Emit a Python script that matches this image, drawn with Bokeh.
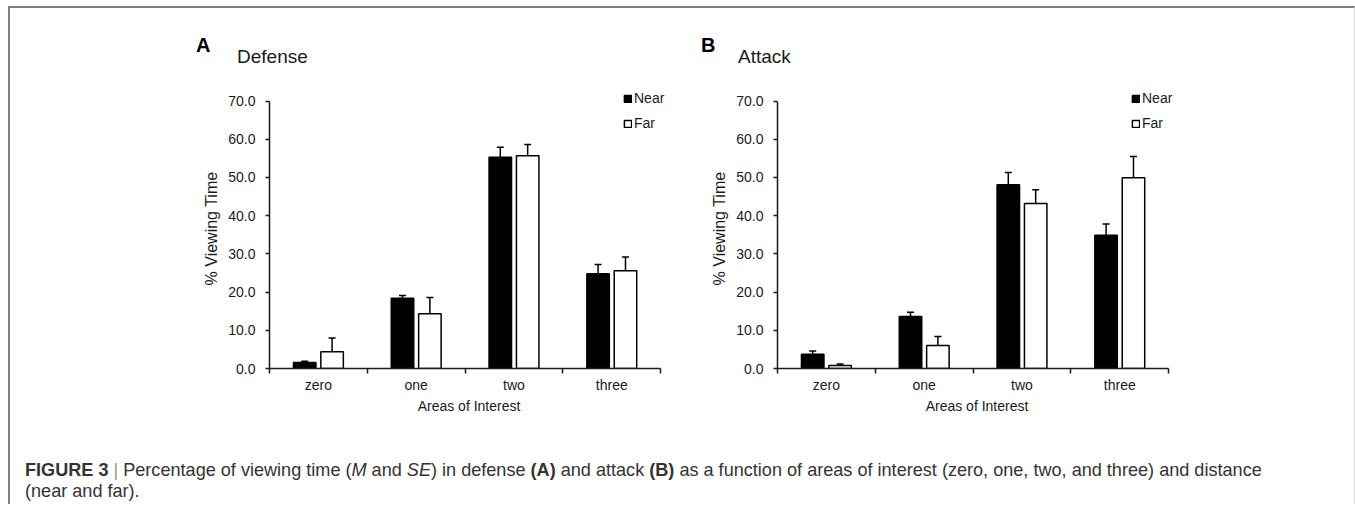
from bokeh.plotting import figure
from bokeh.models import (Range1d, FixedTicker, Whisker, TeeHead, ColumnDataSource,
                          Legend, LegendItem, Div, CustomJSTickFormatter, NumeralTickFormatter)
from bokeh.layouts import row, column
from bokeh.embed import file_html
from bokeh.resources import INLINE

categories = ["zero", "one", "two", "three"]
defense_near = [1.6, 18.4, 55.3, 24.8]
defense_near_se = [0.3, 0.7, 2.6, 2.4]
defense_far = [4.4, 14.3, 55.7, 25.6]
defense_far_se = [3.6, 4.3, 2.9, 3.6]
attack_near = [3.7, 13.6, 48.1, 34.9]
attack_near_se = [0.9, 1.1, 3.2, 2.9]
attack_far = [0.8, 6.0, 43.2, 49.9]
attack_far_se = [0.4, 2.4, 3.6, 5.6]
y_ticks = [0, 10, 20, 30, 40, 50, 60, 70]
series_names = ["Near", "Far"]
panel_letters = ["A", "B"]
panel_titles = ["Defense", "Attack"]

FONT = "Liberation Sans"
INK = "#1a1a1a"
HEAD_H = 70
FIG_H = 362
TOP = 10
BOTTOM = 72
X_END = 4.08
FRAME_W = 399
YMAX = 70 * (FIG_H - TOP - BOTTOM) / 267.5


def make_panel(near, near_se, far, far_se, width, border_left):
    p = figure(width=width, height=FIG_H, x_range=Range1d(0, X_END),
               y_range=Range1d(0, YMAX), output_backend="svg", toolbar_location=None,
               min_border_left=border_left, min_border_right=width - border_left - FRAME_W,
               min_border_top=TOP, min_border_bottom=BOTTOM)
    p.xgrid.visible = False
    p.ygrid.visible = False
    p.outline_line_color = None

    n = len(categories)
    centers = [i + 0.5 for i in range(n)]
    off = 0.14
    bw = 0.23
    src_near = ColumnDataSource(dict(x=[c - off for c in centers], top=near,
                                     upper=[v + s for v, s in zip(near, near_se)]))
    src_far = ColumnDataSource(dict(x=[c + off for c in centers], top=far,
                                    upper=[v + s for v, s in zip(far, far_se)]))
    r_near = p.vbar(x="x", top="top", width=bw, source=src_near, fill_color="black",
                    line_color="black", line_width=1.5)
    r_far = p.vbar(x="x", top="top", width=bw, source=src_far, fill_color="white",
                   line_color="black", line_width=1.5)
    for src in (src_near, src_far):
        w = Whisker(base="x", upper="upper", lower="top", dimension="height", source=src,
                    line_color="black", line_width=1.5, level="annotation",
                    upper_head=TeeHead(size=7, line_color="black", line_width=1.5),
                    lower_head=None)
        p.add_layout(w)

    # x axis
    xa = p.xaxis[0]
    xa.bounds = (0, n)
    xa.ticker = FixedTicker(ticks=centers, minor_ticks=list(range(n + 1)))
    xa.formatter = CustomJSTickFormatter(args=dict(cats=categories),
                                         code="return cats[Math.floor(tick)] || '';")
    xa.major_tick_out = 0
    xa.major_tick_in = 0
    xa.minor_tick_out = 5
    xa.minor_tick_in = 0
    xa.minor_tick_line_color = INK
    xa.minor_tick_line_width = 1.5
    xa.axis_line_color = INK
    xa.axis_line_width = 1.5
    xa.major_label_standoff = 3
    xa.major_label_text_font = FONT
    xa.major_label_text_font_size = "14px"
    xa.major_label_text_color = INK
    xa.axis_label = "Areas of Interest"
    xa.axis_label_text_font = FONT
    xa.axis_label_text_font_size = "14px"
    xa.axis_label_text_font_style = "normal"
    xa.axis_label_text_color = INK
    xa.axis_label_standoff = 2

    # y axis
    ya = p.yaxis[0]
    ya.ticker = FixedTicker(ticks=y_ticks)
    ya.formatter = NumeralTickFormatter(format="0.0")
    ya.bounds = (0, 70)
    ya.major_tick_out = 4
    ya.major_tick_in = 0
    ya.minor_tick_out = 0
    ya.minor_tick_in = 0
    ya.major_tick_line_color = INK
    ya.major_tick_line_width = 1.5
    ya.axis_line_color = INK
    ya.axis_line_width = 1.5
    ya.major_label_standoff = 10
    ya.major_label_text_font = FONT
    ya.major_label_text_font_size = "14px"
    ya.major_label_text_color = INK
    ya.axis_label = "% Viewing Time"
    ya.axis_label_text_font = FONT
    ya.axis_label_text_font_size = "16px"
    ya.axis_label_text_font_style = "normal"
    ya.axis_label_text_color = INK
    ya.axis_label_standoff = 5

    fb = FIG_H - BOTTOM
    legend = Legend(items=[LegendItem(label=series_names[0], renderers=[r_near]),
                           LegendItem(label=series_names[1], renderers=[r_far])],
                    location=(354, fb - 53), glyph_width=9, glyph_height=9,
                    label_standoff=2, padding=0, margin=0, spacing=9,
                    label_height=14, border_line_color=None, background_fill_alpha=0,
                    label_text_font=FONT, label_text_font_size="14px",
                    label_text_color=INK)
    p.add_layout(legend)
    return p


pa = make_panel(defense_near, defense_near_se, defense_far, defense_far_se,
                width=672, border_left=259)
pb = make_panel(attack_near, attack_near_se, attack_far, attack_far_se,
                width=667, border_left=95)

SPAN = "position:absolute;white-space:nowrap;line-height:1;font-family:'Liberation Sans',Arial,sans-serif;"
header_html = (
    "<div style='position:relative;width:1339px;height:70px;'>"
    f"<span style=\"{SPAN}left:186px;top:27px;font-size:20px;font-weight:bold;color:#000;\">{panel_letters[0]}</span>"
    f"<span style=\"{SPAN}left:227px;top:39px;font-size:19px;color:#1a1a1a;\">{panel_titles[0]}</span>"
    f"<span style=\"{SPAN}left:691px;top:27px;font-size:20px;font-weight:bold;color:#000;\">{panel_letters[1]}</span>"
    f"<span style=\"{SPAN}left:728px;top:39px;font-size:19px;color:#1a1a1a;\">{panel_titles[1]}</span>"
    "</div>"
)
header = Div(text=header_html, width=1339, height=HEAD_H, margin=0)

caption_html = (
    "<div style=\"font-family:'Liberation Sans',Arial,sans-serif;font-size:18.1px;color:#333;"
    "line-height:21px;white-space:nowrap;padding-left:15px;padding-top:20px;\">"
    "<b>FIGURE 3</b> <span style='color:#999'>|</span> Percentage of viewing time "
    "(<i>M</i> and <i>SE</i>) in defense <b>(A)</b> and attack <b>(B)</b> as a function of "
    "areas of interest (zero, one, two, and three) and distance<br>(near and far).</div>"
)
caption = Div(text=caption_html, width=1344, height=64, margin=0)

layout = column(header, row(pa, pb), caption,
                styles={"border-top": "2px solid #7f7f7f", "border-left": "2px solid #7f7f7f",
                        "border-right": "1px solid #dddddd",
                        "margin-left": "8px", "margin-top": "6px"})

open("out.html", "w").write(file_html(layout, INLINE))
